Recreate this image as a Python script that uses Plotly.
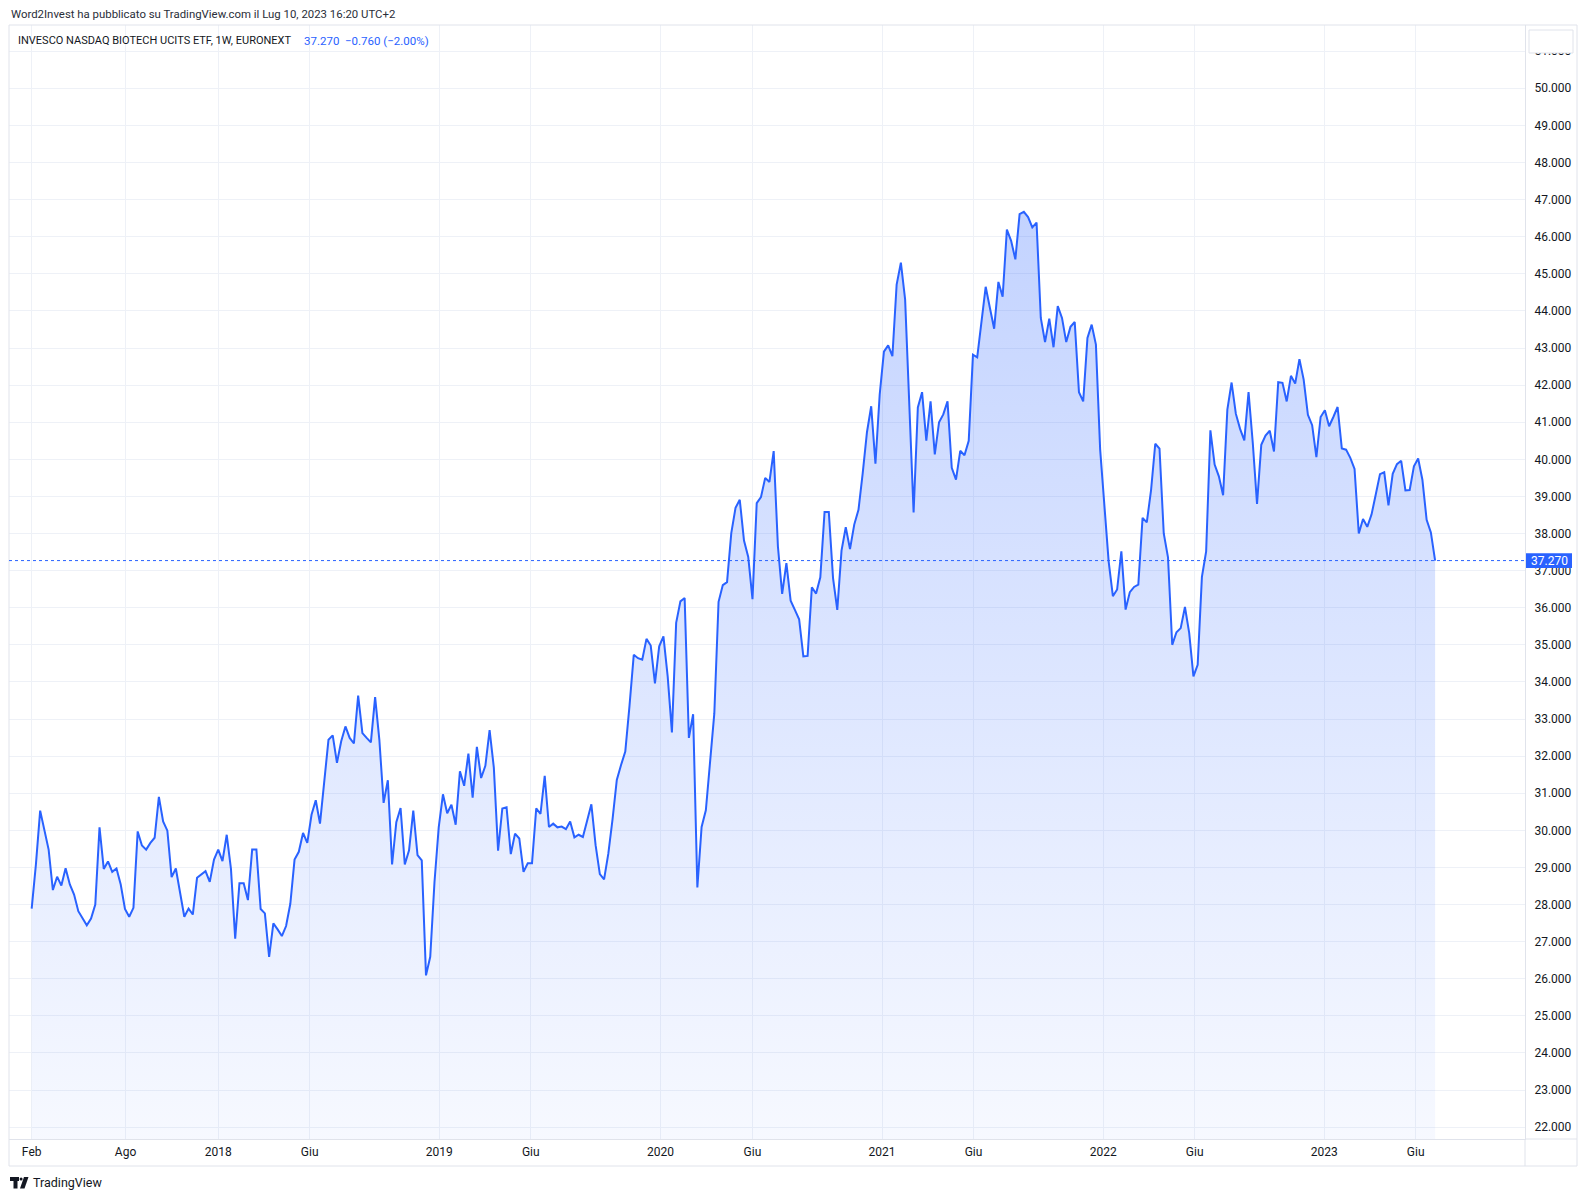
import pandas as pd
import plotly.graph_objects as go

# ---------------- data (weekly close, EUR) ----------------
start_date = "2017-02-27"
closes = [
    27.89, 29.08, 30.53, 29.97, 29.48, 28.39, 28.75, 28.51, 28.98, 28.54,
    28.27, 27.82, 27.62, 27.44, 27.62, 28.00, 30.08, 28.96, 29.16, 28.88,
    28.97, 28.54, 27.88, 27.67, 27.91, 29.97, 29.59, 29.48, 29.66, 29.80,
    30.90, 30.24, 29.99, 28.74, 28.97, 28.31, 27.67, 27.89, 27.73, 28.72,
    28.81, 28.90, 28.61, 29.21, 29.48, 29.17, 29.88, 28.96, 27.08, 28.57,
    28.57, 28.12, 29.48, 29.48, 27.88, 27.76, 26.59, 27.49, 27.33, 27.15,
    27.42, 28.02, 29.21, 29.42, 29.93, 29.66, 30.42, 30.81, 30.18, 31.37,
    32.44, 32.56, 31.82, 32.40, 32.80, 32.49, 32.34, 33.63, 32.62, 32.49,
    32.37, 33.59, 32.44, 30.74, 31.35, 29.08, 30.22, 30.60, 29.08, 29.46,
    30.53, 29.33, 29.19, 26.09, 26.59, 28.60, 30.08, 30.97, 30.46, 30.69,
    30.15, 31.59, 31.20, 32.07, 30.88, 32.25, 31.41, 31.74, 32.70, 31.69,
    29.45, 30.59, 30.62, 29.36, 29.91, 29.78, 28.88, 29.11, 29.11, 30.59,
    30.44, 31.47, 30.09, 30.18, 30.08, 30.10, 30.03, 30.24, 29.81, 29.88,
    29.82, 30.26, 30.70, 29.60, 28.82, 28.68, 29.37, 30.30, 31.36, 31.76,
    32.12, 33.36, 34.73, 34.64, 34.60, 35.16, 34.98, 33.96, 34.96, 35.23,
    34.15, 32.64, 35.59, 36.17, 36.26, 32.49, 33.13, 28.46, 30.09, 30.54,
    31.78, 33.15, 36.16, 36.61, 36.69, 38.01, 38.69, 38.91, 37.81, 37.37,
    36.23, 38.82, 38.98, 39.50, 39.39, 40.22, 37.65, 36.37, 37.20, 36.19,
    35.94, 35.69, 34.69, 34.70, 36.55, 36.38, 36.82, 38.58, 38.58, 36.80,
    35.94, 37.54, 38.17, 37.58, 38.24, 38.64, 39.63, 40.73, 41.43, 39.88,
    41.74, 42.90, 43.07, 42.78, 44.71, 45.30, 44.31, 41.50, 38.57, 41.40,
    41.81, 40.50, 41.56, 40.13, 41.00, 41.21, 41.56, 39.77, 39.45, 40.23,
    40.11, 40.50, 42.82, 42.75, 43.70, 44.65, 44.08, 43.52, 44.78, 44.38,
    46.19, 45.89, 45.39, 46.61, 46.67, 46.53, 46.25, 46.38, 43.81, 43.16,
    43.79, 43.02, 44.13, 43.81, 43.16, 43.57, 43.70, 41.81, 41.56, 43.27,
    43.63, 43.09, 40.26, 38.73, 37.25, 36.31, 36.49, 37.52, 35.95, 36.42,
    36.56, 36.62, 38.42, 38.30, 39.16, 40.42, 40.29, 38.00, 37.36, 35.00,
    35.34, 35.45, 36.02, 35.32, 34.15, 34.46, 36.83, 37.52, 40.78, 39.86,
    39.54, 39.03, 41.34, 42.07, 41.23, 40.82, 40.51, 41.81, 40.44, 38.80,
    40.39, 40.64, 40.77, 40.21, 42.08, 42.06, 41.56, 42.25, 42.04, 42.70,
    42.15, 41.20, 40.92, 40.06, 41.14, 41.32, 40.89, 41.14, 41.41, 40.29,
    40.26, 40.04, 39.74, 38.00, 38.39, 38.18, 38.51, 39.05, 39.60, 39.65,
    38.76, 39.61, 39.87, 39.96, 39.16, 39.17, 39.81, 40.02, 39.45, 38.37,
    38.03, 37.27,
]
last_price = 37.27
change_text = "\u22120.760 (\u22122.00%)"

tick_dates = ["2017-02-27", "2017-08-01", "2018-01-01", "2018-06-01", "2019-01-01",
              "2019-06-01", "2020-01-01", "2020-06-01", "2021-01-01", "2021-06-01",
              "2022-01-01", "2022-06-01", "2023-01-01", "2023-06-01"]
tick_labels = ["Feb", "Ago", "2018", "Giu", "2019", "Giu", "2020", "Giu", "2021", "Giu",
               "2022", "Giu", "2023", "Giu"]
price_ticks = list(range(22, 52))

title_text = "Word2Invest ha pubblicato su TradingView.com il Lug 10, 2023 16:20 UTC+2"
symbol_text = "INVESCO NASDAQ BIOTECH UCITS ETF, 1W, EURONEXT"

# ---------------- layout constants ----------------
W, H = 1587, 1200
ML, MR, MT, MB = 9, 62, 25, 61
PW, PH = W - ML - MR, H - MT - MB
BLUE = "#2962FF"
TXT = "#131722"
GRID = "#EEF1F7"
BORDER = "#E0E3EB"
FONT = "Roboto"

def px(x):
    return (x - ML) / PW

def py(y):
    return (H - MB - y) / PH

dates = pd.date_range(start=start_date, periods=len(closes), freq="7D")
t0 = pd.Timestamp(start_date)
x_range = [t0 + pd.Timedelta(weeks=-5.35), t0 + pd.Timedelta(weeks=352.2)]
y_range = [21.68, 51.706]

fig = go.Figure()
fig.add_trace(go.Scatter(
    x=dates, y=closes, mode="lines",
    line=dict(color=BLUE, width=2),
    fill="tozeroy",
    fillgradient=dict(
        type="vertical",
        start=y_range[0], stop=max(closes),
        colorscale=[[0, "rgba(41,98,255,0.04)"], [1, "rgba(41,98,255,0.28)"]],
    ),
    hoverinfo="skip",
    showlegend=False,
))

shapes = []
# outer frame
shapes.append(dict(type="rect", xref="paper", yref="paper",
                   x0=px(9), x1=px(1577), y0=py(1166), y1=py(25),
                   line=dict(color=BORDER, width=1), fillcolor="rgba(0,0,0,0)", layer="above"))
# separators extending into axis areas
shapes.append(dict(type="line", xref="paper", yref="paper",
                   x0=px(1525), x1=px(1577), y0=py(1139), y1=py(1139),
                   line=dict(color=BORDER, width=1), layer="above"))
shapes.append(dict(type="line", xref="paper", yref="paper",
                   x0=px(1525), x1=px(1525), y0=py(1166), y1=py(1139),
                   line=dict(color=BORDER, width=1), layer="above"))
# last-price dotted line
shapes.append(dict(type="line", xref="paper", yref="y",
                   x0=0, x1=1, y0=last_price, y1=last_price,
                   line=dict(color=BLUE, width=1, dash="dot"), layer="above"))
# last-price label box
shapes.append(dict(type="rect", xref="paper", yref="y",
                   x0=px(1526), x1=px(1572), y0=last_price - 0.2, y1=last_price + 0.2,
                   line=dict(width=0), fillcolor=BLUE, layer="above"))
# empty box at top of price scale
shapes.append(dict(type="rect", xref="paper", yref="paper",
                   x0=px(1529), x1=px(1573), y0=py(53), y1=py(30),
                   line=dict(color=BORDER, width=1), fillcolor="white", layer="above"))
# TradingView logo glyph
shapes.append(dict(type="path", xref="paper", yref="paper",
                   path=f"M {px(10)} {py(1177)} L {px(19)} {py(1177)} L {px(19)} {py(1181)} "
                        f"L {px(17.5)} {py(1181)} L {px(17.5)} {py(1188.5)} L {px(13.5)} {py(1188.5)} "
                        f"L {px(13.5)} {py(1181)} L {px(10)} {py(1181)} Z",
                   fillcolor=TXT, line=dict(width=0), layer="above"))
shapes.append(dict(type="circle", xref="paper", yref="paper",
                   x0=px(19.6), x1=px(22.6), y0=py(1180.5), y1=py(1177.5),
                   fillcolor=TXT, line=dict(width=0), layer="above"))
shapes.append(dict(type="path", xref="paper", yref="paper",
                   path=f"M {px(24)} {py(1177)} L {px(28.5)} {py(1177)} L {px(24.5)} {py(1188.5)} "
                        f"L {px(20)} {py(1188.5)} Z",
                   fillcolor=TXT, line=dict(width=0), layer="above"))

annotations = [
    dict(text=title_text, xref="paper", yref="paper", x=px(9), y=py(14),
         xanchor="left", yanchor="middle", showarrow=False,
         font=dict(family=FONT, size=11.4, color="#2A2E39")),
    dict(text=symbol_text, xref="paper", yref="paper", x=px(16), y=py(40.5),
         xanchor="left", yanchor="middle", showarrow=False,
         font=dict(family=FONT, size=11, color=TXT)),
    dict(text=f"{last_price:.3f}", xref="paper", yref="paper", x=px(302), y=py(40.5),
         xanchor="left", yanchor="middle", showarrow=False,
         font=dict(family=FONT, size=11.5, color=BLUE)),
    dict(text=change_text, xref="paper", yref="paper", x=px(343), y=py(40.5),
         xanchor="left", yanchor="middle", showarrow=False,
         font=dict(family=FONT, size=11.5, color=BLUE)),
    dict(text=f"{last_price:.3f}", xref="paper", yref="y", x=px(1549), y=last_price,
         xanchor="center", yanchor="middle", showarrow=False,
         font=dict(family=FONT, size=12, color="white")),
    dict(text="TradingView", xref="paper", yref="paper", x=px(31), y=py(1182.5),
         xanchor="left", yanchor="middle", showarrow=False,
         font=dict(family=FONT, size=12.5, color=TXT)),
]

fig.update_layout(
    width=W, height=H,
    margin=dict(l=ML, r=MR, t=MT, b=MB, pad=0),
    paper_bgcolor="white", plot_bgcolor="white",
    font=dict(family=FONT, size=12, color=TXT),
    shapes=shapes, annotations=annotations,
    showlegend=False,
    xaxis=dict(
        type="date", range=x_range,
        tickvals=tick_dates, ticktext=tick_labels,
        showgrid=True, gridcolor=GRID, gridwidth=1,
        showline=True, linecolor=BORDER, linewidth=1,
        ticks="outside", ticklen=2, tickcolor="rgba(0,0,0,0)",
        tickfont=dict(family=FONT, size=12, color=TXT),
        zeroline=False, fixedrange=True,
    ),
    yaxis=dict(
        side="right", range=y_range,
        tickvals=price_ticks, tickformat=".3f",
        showgrid=True, gridcolor=GRID, gridwidth=1,
        showline=True, linecolor=BORDER, linewidth=1,
        ticks="outside", ticklen=6, tickcolor="rgba(0,0,0,0)",
        tickfont=dict(family=FONT, size=12, color=TXT),
        zeroline=False, fixedrange=True,
    ),
)

fig.write_html("out.html")
